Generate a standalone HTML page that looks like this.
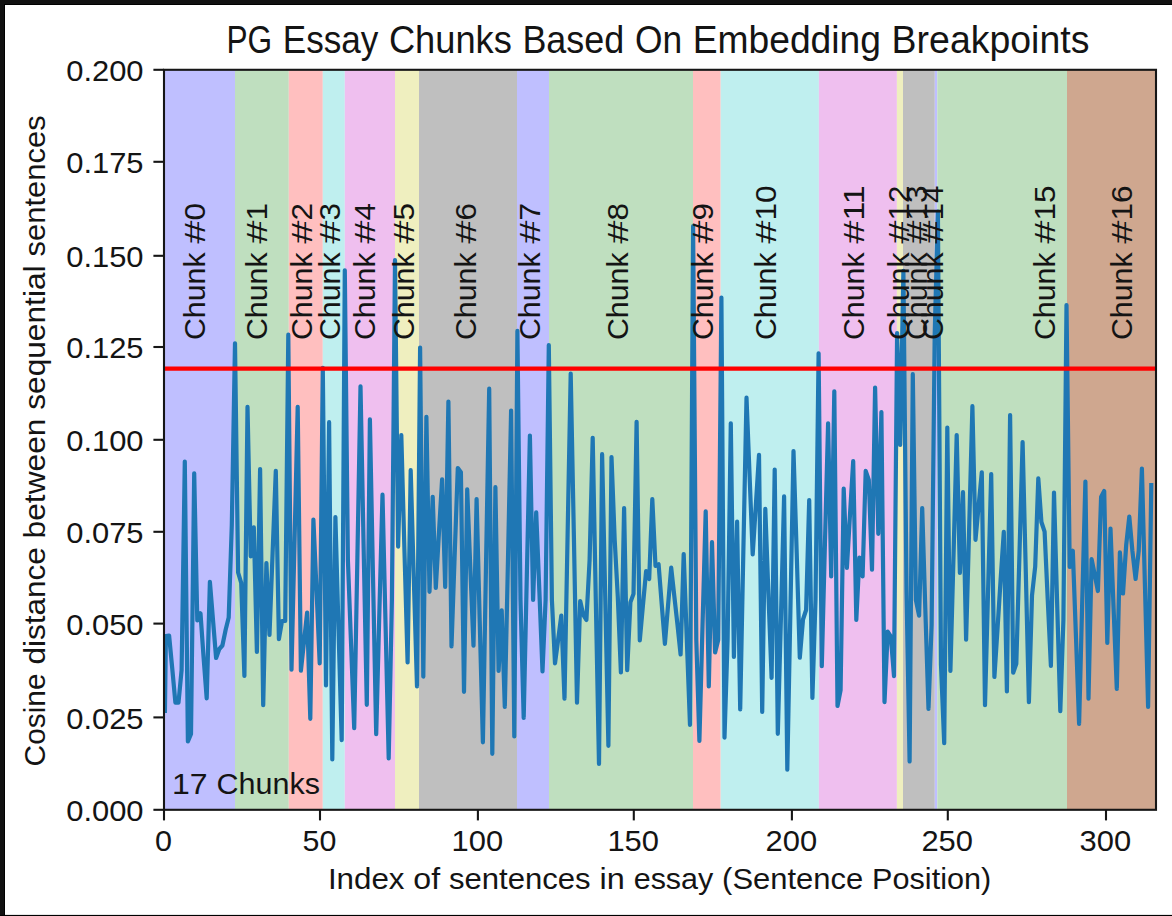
<!DOCTYPE html>
<html lang="en">
<head>
<meta charset="utf-8">
<title>PG Essay Chunks Based On Embedding Breakpoints</title>
<style>
  html, body { margin: 0; padding: 0; background: #ffffff; }
  body { width: 1172px; height: 916px; overflow: hidden; }
  svg { display: block; }
  svg text { font-family: "Liberation Sans", sans-serif; font-size: 29.4px; fill: #141414; }
  svg text.title { font-size: 38px; }
  .spine { fill: none; stroke: #161616; stroke-width: 2.1; }
  .ticks line { stroke: #161616; stroke-width: 2.1; }
</style>
</head>
<body>
<svg width="1172" height="916" viewBox="0 0 1172 916">
  <defs>
    <clipPath id="axclip"><rect x="164.0" y="69.8" width="992.0" height="740.0"/></clipPath>
  </defs>

  <!-- page + notebook frame -->
  <rect x="0" y="0" width="1172" height="916" fill="#ffffff"/>
  <rect x="0" y="0" width="1172" height="4" fill="#111111"/>
  <rect x="0" y="4" width="1172" height="1" fill="#000000"/>
  <rect x="0" y="0" width="4" height="916" fill="#111111"/>
  <rect x="4" y="4" width="1" height="916" fill="#000000"/>
  <rect x="0" y="914.9" width="1172" height="1.1" fill="#000000"/>

  <!-- shaded chunks -->
  <g clip-path="url(#axclip)">
<rect x="164.0" y="69.8" width="71.0" height="740.0" fill="#bfbfff"/>
<rect x="235.0" y="69.8" width="53.8" height="740.0" fill="#bfdfbf"/>
<rect x="288.8" y="69.8" width="34.0" height="740.0" fill="#ffbfbf"/>
<rect x="322.8" y="69.8" width="22.0" height="740.0" fill="#bfefef"/>
<rect x="344.8" y="69.8" width="50.2" height="740.0" fill="#efbfef"/>
<rect x="395.0" y="69.8" width="24.0" height="740.0" fill="#efefbf"/>
<rect x="419.0" y="69.8" width="98.0" height="740.0" fill="#bfbfbf"/>
<rect x="517.0" y="69.8" width="32.0" height="740.0" fill="#bfbfff"/>
<rect x="549.0" y="69.8" width="144.0" height="740.0" fill="#bfdfbf"/>
<rect x="693.0" y="69.8" width="27.7" height="740.0" fill="#ffbfbf"/>
<rect x="720.7" y="69.8" width="98.2" height="740.0" fill="#bfefef"/>
<rect x="818.9" y="69.8" width="78.0" height="740.0" fill="#efbfef"/>
<rect x="896.9" y="69.8" width="6.1" height="740.0" fill="#efefbf"/>
<rect x="903.0" y="69.8" width="31.8" height="740.0" fill="#bfbfbf"/>
<rect x="934.8" y="69.8" width="2.5" height="740.0" fill="#bfbfff"/>
<rect x="937.3" y="69.8" width="129.7" height="740.0" fill="#bfdfbf"/>
<rect x="1067.0" y="69.8" width="89.0" height="740.0" fill="#cfa78f"/>
  </g>

  <!-- distance series -->
  <g clip-path="url(#axclip)">
    <polyline fill="none" stroke="#1f77b4" stroke-width="4.2" stroke-linejoin="round" stroke-linecap="butt"
      points="164.9,713.0 165.9,636.0 169.1,635.5 172.2,668.0 175.4,702.6 178.5,702.6 181.6,670.0 184.8,461.6 187.9,741.5 191.0,734.0 194.2,473.4 197.3,620.5 200.5,613.3 203.6,657.6 206.7,698.3 209.9,581.9 213.0,620.0 216.1,658.0 219.3,649.0 222.4,645.5 225.6,630.0 228.7,617.6 231.8,525.0 235.0,343.3 238.1,572.5 241.2,582.8 244.4,676.0 247.5,406.8 250.7,556.3 253.8,527.3 256.9,652.0 260.1,469.1 263.2,705.1 266.4,563.1 269.5,634.8 272.6,552.8 275.8,470.8 278.9,639.1 282.0,621.2 285.2,621.0 288.3,334.7 291.5,669.7 294.6,538.2 297.7,406.8 300.9,670.7 304.0,641.7 307.1,612.6 310.3,718.8 313.4,519.6 316.6,591.5 319.7,663.3 322.8,367.8 326.0,685.5 329.1,422.2 332.3,759.4 335.4,517.1 338.5,628.6 341.7,740.1 344.8,270.3 347.9,560.0 351.1,645.0 354.2,728.2 357.4,557.3 360.5,386.4 363.6,545.6 366.8,704.8 369.9,419.4 373.0,576.8 376.2,734.2 379.3,614.5 382.5,494.7 385.6,626.5 388.7,758.4 391.9,600.0 395.0,260.2 398.1,546.6 401.3,435.0 404.4,548.8 407.6,662.5 410.7,470.2 413.8,578.3 417.0,686.4 420.1,347.5 423.3,676.6 426.4,416.9 429.5,591.8 432.7,496.8 435.8,588.0 438.9,533.7 442.1,479.4 445.2,587.0 448.4,401.5 451.5,646.4 454.6,557.2 457.8,468.0 460.9,472.3 464.0,691.8 467.2,489.4 470.3,567.5 473.5,645.6 476.6,499.0 479.7,620.6 482.9,742.3 486.0,565.5 489.2,388.7 492.3,753.8 495.4,487.2 498.6,671.0 501.7,610.4 504.8,706.9 508.0,558.7 511.1,410.5 514.3,736.4 517.4,330.9 520.5,600.0 523.7,717.9 526.8,576.8 529.9,435.6 533.1,600.0 536.2,512.3 539.4,591.9 542.5,671.5 545.6,600.0 548.8,345.0 551.9,600.0 555.0,663.3 558.2,639.4 561.3,615.5 564.5,698.7 567.6,535.0 570.7,373.6 573.9,537.0 577.0,702.6 580.2,601.0 583.3,615.0 586.4,620.0 589.6,560.0 592.7,437.8 595.8,600.0 599.0,764.0 602.1,454.2 605.3,600.0 608.4,745.8 611.5,457.0 614.7,540.0 617.8,597.0 620.9,672.4 624.1,508.0 627.2,670.2 630.4,602.4 633.5,593.9 636.6,421.8 639.8,640.4 642.9,605.8 646.1,571.2 649.2,579.0 652.3,499.0 655.5,566.0 658.6,564.3 661.7,604.0 664.9,643.9 668.0,606.0 671.2,567.7 674.3,596.0 677.4,624.0 680.6,654.5 683.7,554.1 686.8,639.4 690.0,724.8 693.1,226.1 696.3,640.0 699.4,741.0 702.5,626.2 705.7,511.4 708.8,686.4 712.0,542.2 715.1,652.4 718.2,640.0 721.4,297.6 724.5,737.6 727.6,640.0 730.8,423.3 733.9,657.0 737.1,521.7 740.2,709.4 743.3,553.5 746.5,397.7 749.6,476.0 752.7,554.3 755.9,504.5 759.0,454.8 762.2,712.0 765.3,508.9 768.4,593.3 771.6,677.8 774.7,469.5 777.8,733.8 781.0,615.1 784.1,496.4 787.3,769.7 790.4,610.4 793.5,451.0 796.7,553.0 799.8,657.7 803.0,619.5 806.1,610.0 809.2,500.0 812.4,698.0 815.5,600.0 818.6,353.3 821.8,666.2 824.9,544.8 828.1,423.3 831.2,576.5 834.3,391.3 837.5,706.0 840.6,690.0 843.7,488.7 846.9,567.9 850.0,514.5 853.2,461.2 856.3,620.0 859.4,557.5 862.6,576.5 865.7,470.8 868.8,480.0 872.0,569.6 875.1,387.6 878.3,533.8 881.4,412.0 884.5,702.1 887.7,631.7 890.8,636.5 894.0,676.1 897.1,333.0 900.2,445.0 903.4,270.9 906.5,590.0 909.6,761.5 912.8,374.2 915.9,600.0 919.1,615.7 922.2,508.0 925.3,608.5 928.5,708.9 931.6,625.0 934.7,335.0 937.9,211.5 941.0,665.0 944.2,743.2 947.3,427.5 950.4,671.0 953.6,553.0 956.7,435.0 959.9,573.0 963.0,492.2 966.1,639.6 969.3,522.9 972.4,406.2 975.5,539.8 978.7,505.0 981.8,472.3 985.0,705.1 988.1,589.5 991.2,474.0 994.4,677.0 997.5,629.0 1000.6,580.0 1003.8,531.9 1006.9,691.5 1010.1,415.1 1013.2,672.7 1016.3,663.7 1019.5,552.9 1022.6,442.0 1025.8,572.1 1028.9,702.2 1032.0,595.6 1035.2,566.5 1038.3,478.3 1041.4,522.0 1044.6,531.6 1047.7,598.8 1050.9,665.9 1054.0,492.6 1057.1,601.9 1060.3,711.1 1063.4,620.0 1066.5,305.0 1069.7,567.0 1072.8,550.7 1076.0,637.3 1079.1,723.9 1082.2,602.7 1085.4,481.5 1088.5,698.7 1091.6,559.2 1094.8,575.0 1097.9,591.0 1101.1,497.0 1104.2,491.0 1107.3,643.0 1110.5,528.5 1113.6,608.7 1116.8,688.9 1119.9,552.4 1123.0,593.5 1126.2,545.0 1129.3,516.6 1132.4,551.0 1135.6,579.0 1138.7,551.0 1141.9,468.5 1145.0,587.7 1148.1,706.9 1151.3,483.0"/>
    <line x1="164.0" y1="368.7" x2="1156.0" y2="368.7" stroke="#ff0000" stroke-width="4.2"/>
  </g>

  <!-- chunk labels -->
  <g>
<text transform="translate(205.4,340.1) rotate(-90)"><tspan x="0.0" textLength="87.7" lengthAdjust="spacingAndGlyphs">Chunk</tspan> <tspan x="96.4" textLength="23.1" lengthAdjust="spacingAndGlyphs">#</tspan><tspan x="119.6" textLength="17.5" lengthAdjust="spacingAndGlyphs">0</tspan></text>
<text transform="translate(267.3,340.1) rotate(-90)"><tspan x="0.0" textLength="87.7" lengthAdjust="spacingAndGlyphs">Chunk</tspan> <tspan x="96.4" textLength="23.1" lengthAdjust="spacingAndGlyphs">#</tspan><tspan x="119.6" textLength="17.5" lengthAdjust="spacingAndGlyphs">1</tspan></text>
<text transform="translate(311.9,340.1) rotate(-90)"><tspan x="0.0" textLength="87.7" lengthAdjust="spacingAndGlyphs">Chunk</tspan> <tspan x="96.4" textLength="23.1" lengthAdjust="spacingAndGlyphs">#</tspan><tspan x="119.6" textLength="17.5" lengthAdjust="spacingAndGlyphs">2</tspan></text>
<text transform="translate(340.2,340.1) rotate(-90)"><tspan x="0.0" textLength="87.7" lengthAdjust="spacingAndGlyphs">Chunk</tspan> <tspan x="96.4" textLength="23.1" lengthAdjust="spacingAndGlyphs">#</tspan><tspan x="119.6" textLength="17.5" lengthAdjust="spacingAndGlyphs">3</tspan></text>
<text transform="translate(375.4,340.1) rotate(-90)"><tspan x="0.0" textLength="87.7" lengthAdjust="spacingAndGlyphs">Chunk</tspan> <tspan x="96.4" textLength="23.1" lengthAdjust="spacingAndGlyphs">#</tspan><tspan x="119.6" textLength="17.5" lengthAdjust="spacingAndGlyphs">4</tspan></text>
<text transform="translate(413.6,340.1) rotate(-90)"><tspan x="0.0" textLength="87.7" lengthAdjust="spacingAndGlyphs">Chunk</tspan> <tspan x="96.4" textLength="23.1" lengthAdjust="spacingAndGlyphs">#</tspan><tspan x="119.6" textLength="17.5" lengthAdjust="spacingAndGlyphs">5</tspan></text>
<text transform="translate(475.7,340.1) rotate(-90)"><tspan x="0.0" textLength="87.7" lengthAdjust="spacingAndGlyphs">Chunk</tspan> <tspan x="96.4" textLength="23.1" lengthAdjust="spacingAndGlyphs">#</tspan><tspan x="119.6" textLength="17.5" lengthAdjust="spacingAndGlyphs">6</tspan></text>
<text transform="translate(539.7,340.1) rotate(-90)"><tspan x="0.0" textLength="87.7" lengthAdjust="spacingAndGlyphs">Chunk</tspan> <tspan x="96.4" textLength="23.1" lengthAdjust="spacingAndGlyphs">#</tspan><tspan x="119.6" textLength="17.5" lengthAdjust="spacingAndGlyphs">7</tspan></text>
<text transform="translate(627.6,340.1) rotate(-90)"><tspan x="0.0" textLength="87.7" lengthAdjust="spacingAndGlyphs">Chunk</tspan> <tspan x="96.4" textLength="23.1" lengthAdjust="spacingAndGlyphs">#</tspan><tspan x="119.6" textLength="17.5" lengthAdjust="spacingAndGlyphs">8</tspan></text>
<text transform="translate(713.3,340.1) rotate(-90)"><tspan x="0.0" textLength="87.7" lengthAdjust="spacingAndGlyphs">Chunk</tspan> <tspan x="96.4" textLength="23.1" lengthAdjust="spacingAndGlyphs">#</tspan><tspan x="119.6" textLength="17.5" lengthAdjust="spacingAndGlyphs">9</tspan></text>
<text transform="translate(776.3,340.1) rotate(-90)"><tspan x="0.0" textLength="87.7" lengthAdjust="spacingAndGlyphs">Chunk</tspan> <tspan x="96.4" textLength="23.1" lengthAdjust="spacingAndGlyphs">#</tspan><tspan x="119.6" textLength="35.1" lengthAdjust="spacingAndGlyphs">10</tspan></text>
<text transform="translate(864.3,340.1) rotate(-90)"><tspan x="0.0" textLength="87.7" lengthAdjust="spacingAndGlyphs">Chunk</tspan> <tspan x="96.4" textLength="23.1" lengthAdjust="spacingAndGlyphs">#</tspan><tspan x="119.6" textLength="35.1" lengthAdjust="spacingAndGlyphs">11</tspan></text>
<text transform="translate(908.5,340.1) rotate(-90)"><tspan x="0.0" textLength="87.7" lengthAdjust="spacingAndGlyphs">Chunk</tspan> <tspan x="96.4" textLength="23.1" lengthAdjust="spacingAndGlyphs">#</tspan><tspan x="119.6" textLength="35.1" lengthAdjust="spacingAndGlyphs">12</tspan></text>
<text transform="translate(926.5,340.1) rotate(-90)"><tspan x="0.0" textLength="87.7" lengthAdjust="spacingAndGlyphs">Chunk</tspan> <tspan x="96.4" textLength="23.1" lengthAdjust="spacingAndGlyphs">#</tspan><tspan x="119.6" textLength="35.1" lengthAdjust="spacingAndGlyphs">13</tspan></text>
<text transform="translate(943.1,340.1) rotate(-90)"><tspan x="0.0" textLength="87.7" lengthAdjust="spacingAndGlyphs">Chunk</tspan> <tspan x="96.4" textLength="23.1" lengthAdjust="spacingAndGlyphs">#</tspan><tspan x="119.6" textLength="35.1" lengthAdjust="spacingAndGlyphs">14</tspan></text>
<text transform="translate(1054.6,340.1) rotate(-90)"><tspan x="0.0" textLength="87.7" lengthAdjust="spacingAndGlyphs">Chunk</tspan> <tspan x="96.4" textLength="23.1" lengthAdjust="spacingAndGlyphs">#</tspan><tspan x="119.6" textLength="35.1" lengthAdjust="spacingAndGlyphs">15</tspan></text>
<text transform="translate(1131.8,340.1) rotate(-90)"><tspan x="0.0" textLength="87.7" lengthAdjust="spacingAndGlyphs">Chunk</tspan> <tspan x="96.4" textLength="23.1" lengthAdjust="spacingAndGlyphs">#</tspan><tspan x="119.6" textLength="35.1" lengthAdjust="spacingAndGlyphs">16</tspan></text>
    <text y="794.2"><tspan x="171.9" textLength="35.6" lengthAdjust="spacingAndGlyphs">17</tspan> <tspan x="216.5" textLength="103.5" lengthAdjust="spacingAndGlyphs">Chunks</tspan></text>
  </g>

  <!-- axes -->
  <g class="ticks"><line x1="164.0" y1="809.8" x2="164.0" y2="820.4"/><line x1="320.0" y1="809.8" x2="320.0" y2="820.4"/><line x1="477.9" y1="809.8" x2="477.9" y2="820.4"/><line x1="633.8" y1="809.8" x2="633.8" y2="820.4"/><line x1="791.9" y1="809.8" x2="791.9" y2="820.4"/><line x1="947.8" y1="809.8" x2="947.8" y2="820.4"/><line x1="1106.0" y1="809.8" x2="1106.0" y2="820.4"/><line x1="153.4" y1="809.8" x2="164.0" y2="809.8"/><line x1="153.4" y1="717.4" x2="164.0" y2="717.4"/><line x1="153.4" y1="623.6" x2="164.0" y2="623.6"/><line x1="153.4" y1="531.8" x2="164.0" y2="531.8"/><line x1="153.4" y1="439.8" x2="164.0" y2="439.8"/><line x1="153.4" y1="347.0" x2="164.0" y2="347.0"/><line x1="153.4" y1="255.8" x2="164.0" y2="255.8"/><line x1="153.4" y1="161.8" x2="164.0" y2="161.8"/><line x1="153.4" y1="69.8" x2="164.0" y2="69.8"/></g>
  <rect class="spine" x="164.0" y="69.8" width="992.0" height="740.0"/>

  <!-- tick labels -->
  <g>
<text x="163.4" y="850.6" text-anchor="middle" textLength="17.0" lengthAdjust="spacingAndGlyphs">0</text>
<text x="319.4" y="850.6" text-anchor="middle" textLength="33.8" lengthAdjust="spacingAndGlyphs">50</text>
<text x="477.3" y="850.6" text-anchor="middle" textLength="51.6" lengthAdjust="spacingAndGlyphs">100</text>
<text x="633.2" y="850.6" text-anchor="middle" textLength="51.6" lengthAdjust="spacingAndGlyphs">150</text>
<text x="791.3" y="850.6" text-anchor="middle" textLength="51.6" lengthAdjust="spacingAndGlyphs">200</text>
<text x="947.2" y="850.6" text-anchor="middle" textLength="51.6" lengthAdjust="spacingAndGlyphs">250</text>
<text x="1105.4" y="850.6" text-anchor="middle" textLength="51.6" lengthAdjust="spacingAndGlyphs">300</text>
<text x="143.6" y="821.0" text-anchor="end" textLength="77.4" lengthAdjust="spacingAndGlyphs">0.000</text>
<text x="143.6" y="728.6" text-anchor="end" textLength="77.4" lengthAdjust="spacingAndGlyphs">0.025</text>
<text x="143.6" y="634.8" text-anchor="end" textLength="77.4" lengthAdjust="spacingAndGlyphs">0.050</text>
<text x="143.6" y="543.0" text-anchor="end" textLength="77.4" lengthAdjust="spacingAndGlyphs">0.075</text>
<text x="143.6" y="451.0" text-anchor="end" textLength="77.4" lengthAdjust="spacingAndGlyphs">0.100</text>
<text x="143.6" y="358.2" text-anchor="end" textLength="77.4" lengthAdjust="spacingAndGlyphs">0.125</text>
<text x="143.6" y="267.0" text-anchor="end" textLength="77.4" lengthAdjust="spacingAndGlyphs">0.150</text>
<text x="143.6" y="173.0" text-anchor="end" textLength="77.4" lengthAdjust="spacingAndGlyphs">0.175</text>
<text x="143.6" y="81.0" text-anchor="end" textLength="77.4" lengthAdjust="spacingAndGlyphs">0.200</text>
  </g>

  <!-- titles -->
  <text class="title" y="53.0"><tspan x="226.4" textLength="45.7" lengthAdjust="spacingAndGlyphs">PG</tspan> <tspan x="282.7" textLength="95.7" lengthAdjust="spacingAndGlyphs">Essay</tspan> <tspan x="388.9" textLength="122.9" lengthAdjust="spacingAndGlyphs">Chunks</tspan> <tspan x="522.4" textLength="101.9" lengthAdjust="spacingAndGlyphs">Based</tspan> <tspan x="634.9" textLength="47.2" lengthAdjust="spacingAndGlyphs">On</tspan> <tspan x="692.7" textLength="188.3" lengthAdjust="spacingAndGlyphs">Embedding</tspan> <tspan x="891.6" textLength="197.8" lengthAdjust="spacingAndGlyphs">Breakpoints</tspan></text>
  <text y="889.4"><tspan x="327.9" textLength="76.6" lengthAdjust="spacingAndGlyphs">Index</tspan> <tspan x="413.3" textLength="26.8" lengthAdjust="spacingAndGlyphs">of</tspan> <tspan x="448.9" textLength="141.7" lengthAdjust="spacingAndGlyphs">sentences</tspan> <tspan x="599.5" textLength="25.3" lengthAdjust="spacingAndGlyphs">in</tspan> <tspan x="633.7" textLength="79.6" lengthAdjust="spacingAndGlyphs">essay</tspan> <tspan x="722.1" textLength="141.2" lengthAdjust="spacingAndGlyphs">(Sentence</tspan> <tspan x="872.1" textLength="119.1" lengthAdjust="spacingAndGlyphs">Position)</tspan></text>
  <text transform="translate(44.8,766.4) rotate(-90)"><tspan x="0.0" textLength="93.0" lengthAdjust="spacingAndGlyphs">Cosine</tspan> <tspan x="101.8" textLength="117.4" lengthAdjust="spacingAndGlyphs">distance</tspan> <tspan x="228.0" textLength="119.9" lengthAdjust="spacingAndGlyphs">between</tspan> <tspan x="356.6" textLength="144.4" lengthAdjust="spacingAndGlyphs">sequential</tspan> <tspan x="509.9" textLength="141.2" lengthAdjust="spacingAndGlyphs">sentences</tspan></text>
</svg>
</body>
</html>
